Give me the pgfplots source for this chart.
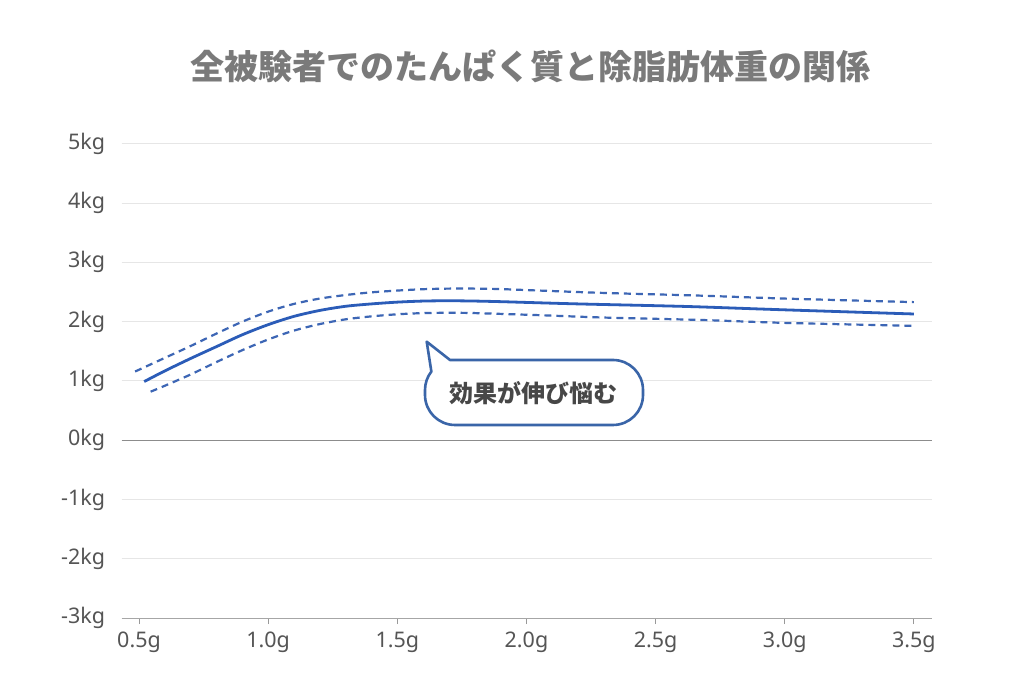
\documentclass[border=0pt]{standalone}
\usepackage{fontspec}
\usepackage{pgfplots}
\pgfplotsset{compat=1.18}
\setmainfont{Noto Sans}
\newfontfamily\jp{Noto Sans CJK JP}
\definecolor{mainblue}{HTML}{2B5CB8}
\definecolor{dashblue}{HTML}{3D66B5}
\definecolor{bubbleblue}{HTML}{3A65A8}
\definecolor{titlegray}{HTML}{7A7A7A}
\definecolor{labelgray}{HTML}{555555}
\definecolor{gridgray}{HTML}{E6E6E6}
\begin{document}
\begin{tikzpicture}[x=1pt,y=1pt]
\path[use as bounding box, fill=white] (0,0) rectangle (1024,700);
\begin{axis}[
  at={(121.7pt,81.8pt)}, anchor=south west,
  scale only axis, width=810.3pt, height=474.4pt,
  xmin=0.433, xmax=3.57, ymin=-3, ymax=5,
  xtick={0.5,1,1.5,2,2.5,3,3.5},
  xticklabels={0.5g,1.0g,1.5g,2.0g,2.5g,3.0g,3.5g},
  ytick={-3,-2,-1,0,1,2,3,4,5},
  yticklabels={-3kg,-2kg,-1kg,0kg,1kg,2kg,3kg,4kg,5kg},
  axis line style={draw=none},
  tick align=outside,
  xtick pos=bottom,
  major tick length=6pt,
  xtick style={draw=gray!80, line width=1pt},
  ytick style={draw=none},
  ymajorgrids,
  major grid style={draw=gridgray, line width=1pt},
  ticklabel style={font=\fontsize{21.5}{25}\selectfont, text=labelgray},
  yticklabel style={xshift=-7pt},
  xticklabel style={yshift=-4pt},
  clip=false,
]
\draw[gray!70, line width=1.2pt] (rel axis cs:0,0) -- (rel axis cs:1,0);
\draw[gray!90, line width=1.2pt] (axis cs:0.433,0) -- (axis cs:3.57,0);
\addplot[dashblue, line width=2.2pt, dash pattern=on 7pt off 5pt, smooth] coordinates {
(0.485,1.16) (0.6,1.39) (0.7,1.59) (0.8,1.80) (0.9,2.00) (1.0,2.17) (1.1,2.30) (1.2,2.39) (1.3,2.45) (1.4,2.495) (1.5,2.525) (1.6,2.548) (1.7,2.558) (1.8,2.558) (1.9,2.55) (2.05,2.525) (2.3,2.485) (2.67,2.44) (3.0,2.39) (3.5,2.33)};
\addplot[dashblue, line width=2.2pt, dash pattern=on 7pt off 5pt, smooth] coordinates {
(0.545,0.82) (0.6,0.92) (0.7,1.11) (0.8,1.32) (0.9,1.52) (1.0,1.70) (1.1,1.85) (1.2,1.96) (1.3,2.04) (1.4,2.09) (1.5,2.125) (1.6,2.145) (1.7,2.15) (1.8,2.145) (2.05,2.11) (2.3,2.07) (2.67,2.03) (3.0,1.98) (3.5,1.93)};
\addplot[mainblue, line width=2.8pt, smooth] coordinates {
(0.52,0.99) (0.6,1.17) (0.7,1.38) (0.8,1.58) (0.9,1.78) (1.0,1.95) (1.1,2.09) (1.2,2.19) (1.3,2.26) (1.4,2.30) (1.5,2.33) (1.6,2.348) (1.7,2.353) (1.8,2.348) (1.9,2.338) (2.0,2.325) (2.2,2.30) (2.5,2.27) (2.67,2.25) (3.0,2.20) (3.5,2.13)};
\end{axis}
\draw[bubbleblue, line width=2.6pt, fill=white, line join=round]
  (450,340) -- (613,340) arc[start angle=90, end angle=0, radius=30]
  -- (643,305) arc[start angle=0, end angle=-90, radius=30]
  -- (455,275) arc[start angle=270, end angle=180, radius=30]
  -- (425,310) arc[start angle=180, end angle=142, radius=30]
  -- (426.7,358.3) -- cycle;
\node[font=\jp\bfseries\fontsize{24}{28}\selectfont, text=black!72] at (533,307) {効果が伸び悩む};
\node[font=\jp\bfseries\fontsize{34}{40}\selectfont, text=titlegray] at (530,634) {全被験者でのたんぱく質と除脂肪体重の関係};
\end{tikzpicture}
\end{document}
